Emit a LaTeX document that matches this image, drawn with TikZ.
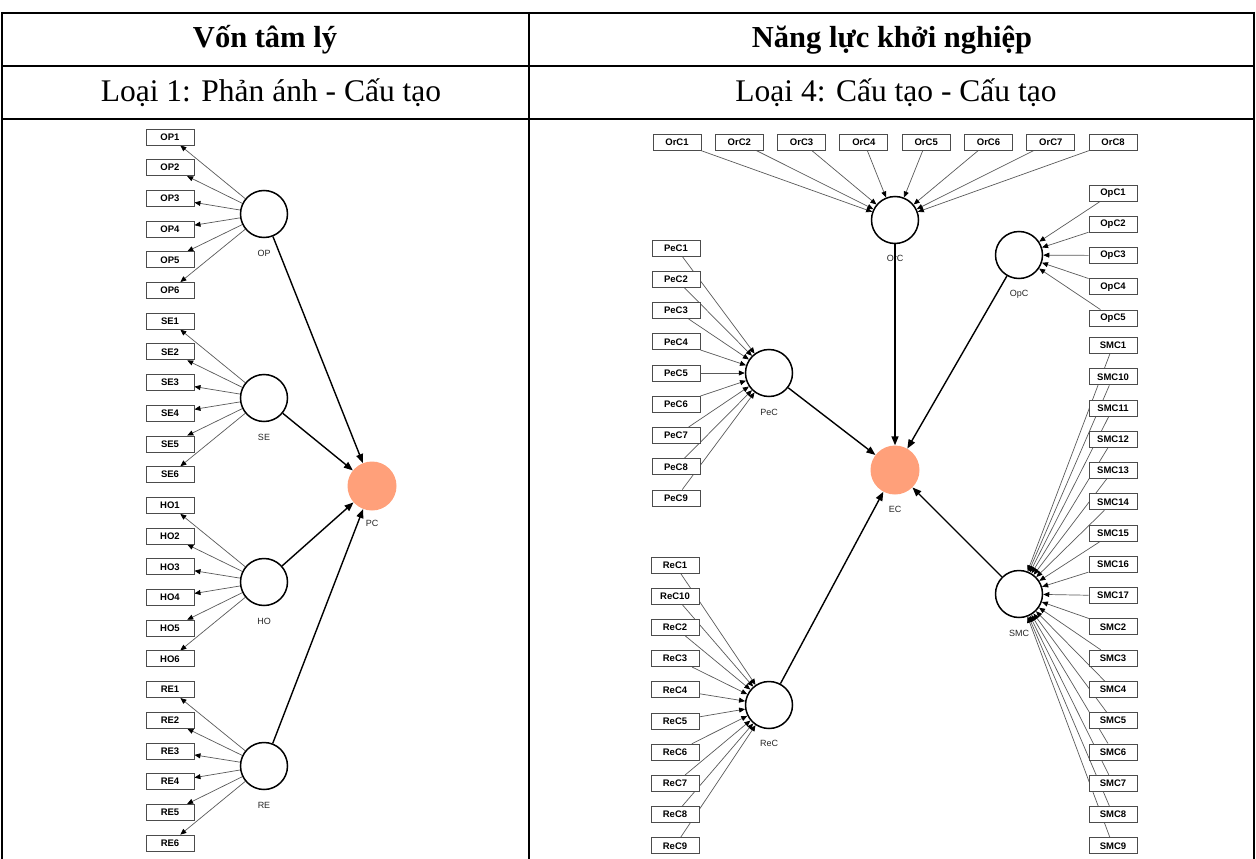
\documentclass[tikz,border=0pt]{standalone}
\usepackage{fontspec}
\setmainfont{Liberation Serif}
\newfontfamily\boxfont{Liberation Sans}
\usetikzlibrary{arrows.meta,backgrounds}
\definecolor{pcfill}{RGB}{255,160,122}

\tikzset{
  tbl/.style={line width=2pt, black},
  ind/.style={draw=black!70, line width=0.9pt, fill=white, minimum width=48pt,
    minimum height=16pt, inner sep=0pt, font=\boxfont\bfseries\fontsize{9.5}{10}\selectfont},
  lv/.style={circle, draw=black, line width=1.5pt, fill=white, minimum size=47pt, inner sep=0pt},
  tgt/.style={circle, fill=pcfill, minimum size=49pt, inner sep=0pt},
  lvname/.style={font=\boxfont\fontsize{9}{10}\selectfont, text=black!85, inner sep=0pt},
  ldg/.style={draw=black!65, line width=0.7pt, -{Triangle[length=6pt,width=5pt,color=black]}},
  strpath/.style={draw=black, line width=1.4pt, -{Triangle[length=9pt,width=7pt]}},
  headtxt/.style={font=\bfseries\fontsize{30.5}{33}\selectfont, inner sep=0pt},
  subtxt/.style={font=\fontsize{31.5}{34}\selectfont, inner sep=0pt}
}

\begin{document}
\begin{tikzpicture}[x=1pt,y=-1pt]
\useasboundingbox (0,0) rectangle (1256,859);

% table frame
\draw[tbl] (1.5,13) -- (1254,13);
\draw[tbl] (1.5,66) -- (1254,66);
\draw[tbl] (1.5,119) -- (1254,119);
\draw[tbl] (1.5,12) -- (1.5,859);
\draw[tbl] (529,12) -- (529,859);
\draw[tbl] (1254,12) -- (1254,859);

% headings
\node[headtxt] (h1) at (265,40) {Vốn tâm lý};
\node[headtxt] (h2) at (892,40) {Năng lực khởi nghiệp};
\node[subtxt] (s1) at (271,93) {Loại 1: Phản ánh - Cấu tạo};
\node[subtxt] (s2) at (896,93) {Loại 4: Cấu tạo - Cấu tạo};

% ---------- left model: reflective - formative ----------
\foreach \n [count=\i from 0] in {OP1,OP2,OP3,OP4,OP5,OP6,SE1,SE2,SE3,SE4,SE5,SE6,
                                   HO1,HO2,HO3,HO4,HO5,HO6,RE1,RE2,RE3,RE4,RE5,RE6}
  \node[ind] (\n) at (170,{137+30.7*\i}) {\n};

\node[lv] (OP) at (264,214) {};
\node[lv] (SE) at (264,398) {};
\node[lv] (HO) at (264,582) {};
\node[lv] (RE) at (264,766) {};
\node[tgt] (PC) at (372,486) {};
\node[lvname] (OPt) at (264,253) {OP};
\node[lvname] (SEt) at (264,437) {SE};
\node[lvname] (HOt) at (264,621) {HO};
\node[lvname] (REt) at (264,805) {RE};
\node[lvname] (PCt) at (372,523) {PC};

% ---------- right model: formative - formative ----------
\foreach \n [count=\i from 0] in {OrC1,OrC2,OrC3,OrC4,OrC5,OrC6,OrC7,OrC8}
  \node[ind] (\n) at ({677+62.3*\i},142) {\n};
\foreach \n [count=\i from 0] in {OpC1,OpC2,OpC3,OpC4,OpC5}
  \node[ind] (\n) at (1113,{193+31.25*\i}) {\n};
\foreach \n [count=\i from 0] in {PeC1,PeC2,PeC3,PeC4,PeC5,PeC6,PeC7,PeC8,PeC9}
  \node[ind] (\n) at (676,{248+31.25*\i}) {\n};
\foreach \n [count=\i from 0] in {ReC1,ReC10,ReC2,ReC3,ReC4,ReC5,ReC6,ReC7,ReC8,ReC9}
  \node[ind] (\n) at (675,{565+31.2*\i}) {\n};
\foreach \n [count=\i from 0] in {SMC1,SMC10,SMC11,SMC12,SMC13,SMC14,SMC15,SMC16,SMC17,
                                   SMC2,SMC3,SMC4,SMC5,SMC6,SMC7,SMC8,SMC9}
  \node[ind] (\n) at (1113,{345.6+31.26*\i}) {\n};

\node[lv] (OrC) at (895,220) {};
\node[lv] (OpC) at (1019,255) {};
\node[lv] (PeC) at (769,373) {};
\node[lv] (ReC) at (769,705) {};
\node[lv] (SMC) at (1019,594) {};
\node[tgt] (EC) at (895,470) {};
\node[lvname] (OrCt) at (895,258) {OrC};
\node[lvname] (OpCt) at (1019,294) {OpC};
\node[lvname] (PeCt) at (769,412) {PeC};
\node[lvname] (ReCt) at (769,743) {ReC};
\node[lvname] (SMCt) at (1019,633) {SMC};
\node[lvname] (ECt) at (895,509) {EC};

% connectors, kept under the boxes
\begin{scope}[on background layer]
  \foreach \c in {OP,SE,HO,RE}
    \foreach \k in {1,...,6}
      \draw[ldg] (\c) -- (\c\k);
  \foreach \k in {1,...,8} \draw[ldg] (OrC\k) -- (OrC);
  \foreach \k in {1,...,5} \draw[ldg] (OpC\k) -- (OpC);
  \foreach \k in {1,...,9} \draw[ldg] (PeC\k) -- (PeC);
  \foreach \k in {1,...,10} \draw[ldg] (ReC\k) -- (ReC);
  \foreach \k in {1,...,17} \draw[ldg] (SMC\k) -- (SMC);
\end{scope}

\foreach \c in {OP,SE,HO,RE} \draw[strpath] (\c) -- (PC);
\foreach \c in {OrC,OpC,PeC,ReC,SMC} \draw[strpath] (\c) -- (EC);
\end{tikzpicture}
\end{document}
